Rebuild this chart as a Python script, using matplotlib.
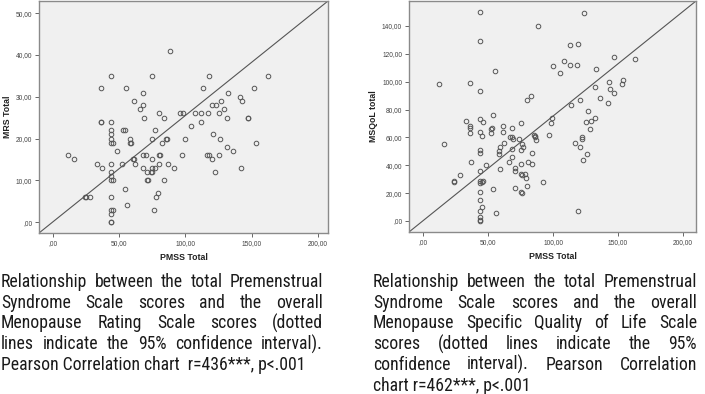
import matplotlib
matplotlib.use("Agg")
import matplotlib.pyplot as plt
from matplotlib import font_manager
from matplotlib.ticker import FuncFormatter

# PMSS total vs MRS total (left chart)
pmss_mrs = [88, 44, 75, 118, 162, 36, 55, 113, 152, 68, 132, 141, 61, 127, 143, 68, 120, 123,
            66, 129, 80, 96, 98, 107, 112, 117, 125, 69, 84, 131, 147, 147, 36, 36, 44, 112,
            104, 44, 53, 54, 77, 44, 121, 44, 58, 75, 85, 86, 100, 126, 44, 45, 58, 59, 82,
            153, 131, 48, 136, 11, 68, 70, 80, 81, 97, 116, 118, 125, 16, 60, 61, 75, 120,
            33, 44, 52, 62, 80, 87, 37, 68, 75, 77, 91, 142, 44, 71, 74, 75, 122, 44, 44, 45,
            71, 72, 84, 54, 79, 24, 25, 28, 44, 78, 56, 44, 45, 76, 44, 44, 44]
mrs_total = [41, 35, 35, 35, 35, 32, 32, 32, 32, 31, 31, 30, 29, 29, 29, 28, 28, 28,
             27, 27, 26, 26, 26, 26, 26, 26, 26, 25, 25, 25, 25, 25, 24, 24, 24, 24,
             23, 22, 22, 22, 22, 21, 21, 20, 20, 20, 20, 20, 20, 20, 19, 19, 19, 19, 19,
             19, 18, 17, 17, 16, 16, 16, 16, 16, 16, 16, 16, 16, 15, 15, 15, 15, 15,
             14, 14, 14, 14, 14, 14, 13, 13, 13, 13, 13, 13, 12, 12, 12, 12, 12, 11, 10, 10,
             10, 10, 10, 8, 7, 6, 6, 6, 6, 6, 4, 3, 3, 3, 2, 0, 0]

# PMSS total vs MSQoL total (right chart)
pmss_msqol = [44, 124, 88, 44, 113, 119, 147, 163, 108, 100, 113, 118, 133, 55, 105, 143, 154,
              153, 12, 36, 132, 144, 44, 147, 83, 136, 80, 121, 142, 114, 127, 54, 99, 132,
              44, 33, 129, 46, 125, 75, 98, 36, 36, 53, 68, 52, 128, 44, 61, 36, 52, 97, 85,
              45, 86, 61, 68, 67, 86, 122, 69, 74, 122, 87, 62, 117, 16, 76, 59, 77, 121, 68,
              44, 75, 58, 44, 84, 58, 126, 68, 123, 37, 66, 81, 75, 84, 48, 71, 59, 44, 71,
              75, 78, 76, 28, 79, 44, 46, 24, 24, 45, 92, 44, 80, 71, 54, 75, 44, 76, 44, 45,
              44, 56, 119, 44, 44, 44]
msqol_total = [150, 149, 140, 129, 126, 127, 118, 116, 115, 111, 112, 112, 109, 108, 106, 100,
               101, 98, 98, 99, 96, 95, 93, 92, 90, 88, 87, 87, 85, 83, 79, 76, 74, 74, 73, 72,
               72, 71, 71, 70, 70, 68, 67, 67, 67, 66, 66, 64, 64, 63, 63, 62, 62, 61, 61, 68,
               60, 60, 60, 60, 59, 59, 59, 58, 56, 56, 55, 55, 53, 53, 53, 52, 51, 51, 50, 49,
               49, 48, 48, 46, 44, 42, 42, 42, 41, 41, 40, 38, 37, 36, 36, 34, 34, 33, 33, 31,
               29, 29, 29, 28, 28, 28, 27, 25, 24, 23, 21, 21, 20, 15, 10, 7, 6, 7, 3, 1, 0]

caption_left = ["Relationship between the total Premenstrual",
                "Syndrome Scale scores and the overall",
                "Menopause Rating Scale scores (dotted",
                "lines indicate the 95% confidence interval).",
                "Pearson Correlation chart  r=436***, p<.001"]
caption_right = ["Relationship between the total Premenstrual",
                 "Syndrome Scale scores and the overall",
                 "Menopause Specific Quality of Life Scale",
                 "scores (dotted lines indicate the 95%",
                 "confidence interval).  Pearson Correlation",
                 "chart r=462***, p<.001"]

W, H = 705, 394
plt.rcParams['font.family'] = ['Liberation Sans', 'DejaVu Sans']
fig = plt.figure(figsize=(W / 100, H / 100), dpi=100)

# pick a narrow sans for the captions if one is installed
names = {f.name for f in font_manager.fontManager.ttflist}
cap_font = dict(family='Liberation Sans')
for cand in ['Liberation Sans Narrow', 'Arial Narrow', 'Roboto Condensed',
             'Open Sans Condensed', 'DejaVu Sans Condensed']:
    if cand in names:
        cap_font = dict(family=cand)
        break
else:
    for f in font_manager.fontManager.ttflist:
        if f.name == 'DejaVu Sans' and f.stretch == 'condensed' and f.weight in (400, 'normal'):
            cap_font = dict(family='DejaVu Sans', stretch='condensed')
            break


def spss_fmt(v, pos):
    s = "{:.2f}".format(v).replace('.', ',')
    if s.startswith('0'):
        s = s[1:]
    return s


def scatter_panel(rect, x, y, xlim, ylim, yticks, ylabel, ylab_x):
    ax = fig.add_axes(rect)
    ax.set_facecolor('#f0f0f0')
    ax.plot(x, y, 'o', ms=3.3, mfc='none', mec='#555555', mew=0.7)
    # reference diagonal across the plot area
    ax.plot([0, 1], [0, 1], transform=ax.transAxes, color='#555555', lw=0.8)
    ax.set_xlim(xlim)
    ax.set_ylim(ylim)
    ax.set_xticks([0, 50, 100, 150, 200])
    ax.set_yticks(yticks)
    ax.xaxis.set_major_formatter(FuncFormatter(spss_fmt))
    ax.yaxis.set_major_formatter(FuncFormatter(spss_fmt))
    ax.tick_params(labelsize=4.8, labelcolor='#444444', color='#666666',
                   length=3, width=0.7, pad=2)
    for sp in ax.spines.values():
        sp.set_color('#8a8a8a')
        sp.set_linewidth(1)
    ax.set_xlabel('PMSS Total', fontsize=6.3, fontweight='bold', color='#222222')
    ax.xaxis.set_label_coords(0.5, -0.085)
    ax.set_ylabel(ylabel, fontsize=6.3, fontweight='bold', color='#222222')
    ax.yaxis.set_label_coords(ylab_x, 0.5)
    return ax


scatter_panel([39 / W, 1 - 233 / H, 289 / W, 232 / H], pmss_mrs, mrs_total,
              (-10.6, 207.6), (-2.6, 52.9), [0, 10, 20, 30, 40, 50], 'MRS Total', -0.093)
scatter_panel([409 / W, 1 - 232 / H, 287 / W, 231 / H], pmss_msqol, msqol_total,
              (-11, 210), (-7.9, 157.9), [0, 20, 40, 60, 80, 100, 120, 140], 'MSQoL total', -0.108)

fig.canvas.draw()
rend = fig.canvas.get_renderer()

# size the caption font so the last left line spans ~306 px as in the original
probe = fig.text(0, 0, caption_left[-1], fontsize=14, **cap_font)
cap_size = min(14, 14 * 306 / probe.get_window_extent(rend).width)
probe.remove()


def justified(lines, x0, x1, y0, step, size):
    # justified paragraph, last line left aligned; positions in pixels
    for i, line in enumerate(lines):
        yb = 1 - (y0 + i * step) / H
        if i == len(lines) - 1:
            fig.text(x0 / W, yb, line, fontsize=size, color='#1a1a1a', va='baseline', **cap_font)
            continue
        words = line.split()
        txts = [fig.text(0, yb, w, fontsize=size, color='#1a1a1a', va='baseline', **cap_font)
                for w in words]
        widths = [t.get_window_extent(rend).width for t in txts]
        gap = (x1 - x0 - sum(widths)) / (len(words) - 1)
        x = x0
        for t, w in zip(txts, widths):
            t.set_x(x / W)
            x += w + gap


justified(caption_left, 1, 323, 287, 20.75, cap_size)
justified(caption_right, 373, 697, 287, 20.75, cap_size)

fig.savefig('out.png', dpi=100)
